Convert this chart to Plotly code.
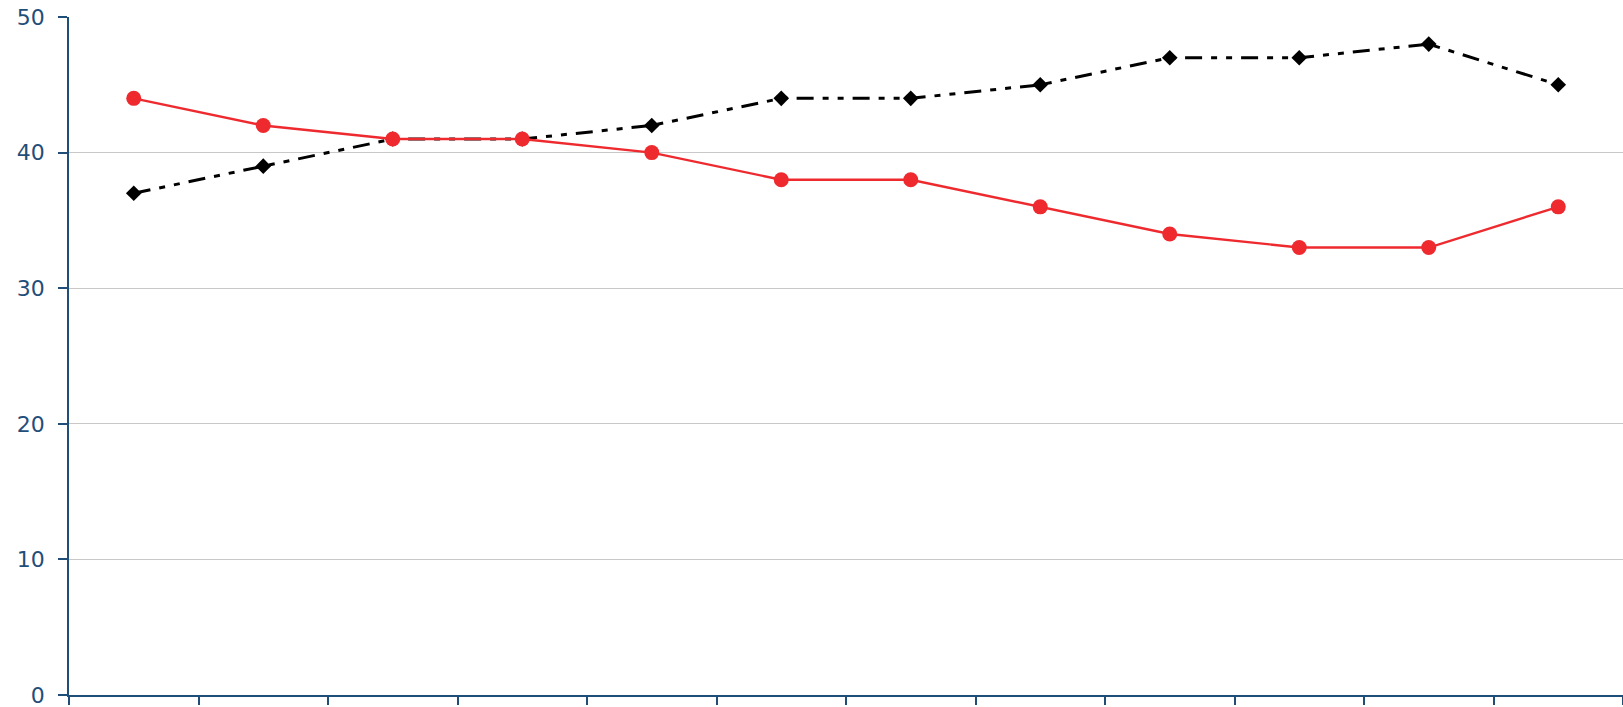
import plotly.graph_objects as go

categories = [str(i) for i in range(1, 13)]
red_values = [44, 42, 41, 41, 40, 38, 38, 36, 34, 33, 33, 36]
black_values = [37, 39, 41, 41, 42, 44, 44, 45, 47, 47, 48, 45]
y_ticks = [0, 10, 20, 30, 40, 50]

AXIS = "#1f4e79"

fig = go.Figure()
fig.add_trace(go.Scatter(
    x=categories, y=black_values, mode="lines+markers", name="black",
    line=dict(color="#000000", width=3, dash="17px,9px,6px,9px,6px,9px"),
    marker=dict(symbol="diamond", size=12, color="#000000"),
))
fig.add_trace(go.Scatter(
    x=categories, y=red_values, mode="lines+markers", name="red",
    line=dict(color="#ee2a2f", width=2.4),
    marker=dict(symbol="circle", size=15, color="#ee2a2f"),
))

fig.update_layout(
    width=1623, height=707, showlegend=False,
    paper_bgcolor="white", plot_bgcolor="white",
    margin=dict(l=69, r=0, t=17, b=12, autoexpand=False),
    font=dict(family="DejaVu Sans", size=18, color=AXIS),
)
fig.update_xaxes(
    type="category", range=[-0.5, 11.5], showticklabels=False,
    ticks="outside", tickson="boundaries", ticklen=8, tickcolor=AXIS, tickwidth=1.5,
    showline=True, linecolor=AXIS, linewidth=1.5, showgrid=False, zeroline=False,
)
fig.update_yaxes(
    range=[0, 50], tickvals=y_ticks, ticks="outside", ticklen=9, tickcolor=AXIS, tickwidth=1.5,
    showline=True, linecolor=AXIS, linewidth=1.5, automargin=False,
    showgrid=True, gridcolor="#c8c8c8", gridwidth=1, zeroline=False,
    tickfont=dict(size=22, color=AXIS), ticklabelstandoff=9, ticklabeloverflow="allow",
)

# drop the browser's default 8px body margin so the chart sits flush with the window
fig.write_html("out.html", config={"displayModeBar": False},
               post_script="document.body.style.margin = '0';")
